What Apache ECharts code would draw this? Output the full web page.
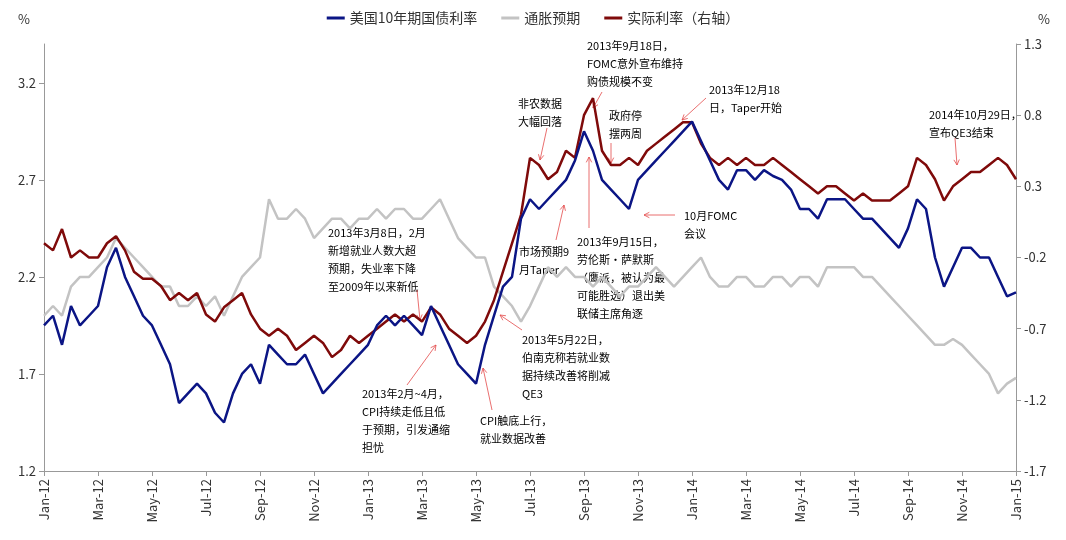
<!DOCTYPE html>
<html>
<head>
<meta charset="UTF-8">
<script src="https://cdn.jsdelivr.net/npm/echarts@6/dist/echarts.min.js"></script>
<style>
  html, body { margin: 0; background: #fff; }
  #chart { width: 1066px; height: 540px; }
</style>
</head>
<body>
<div id="chart"></div>
<script>
  // 每月三个观测点（约每10天），2012年1月 ~ 2015年1月
  const monthLabels = ['Jan', 'Feb', 'Mar', 'Apr', 'May', 'Jun', 'Jul', 'Aug', 'Sep', 'Oct', 'Nov', 'Dec'];

  const yield10y = [
    1.95, 2.0, 1.85, 2.05, 1.95, 2.0, 2.05, 2.25, 2.35, 2.2, 2.1, 2.0,
    1.95, 1.85, 1.75, 1.55, 1.6, 1.65, 1.6, 1.5, 1.45, 1.6, 1.7, 1.75,
    1.65, 1.85, 1.8, 1.75, 1.75, 1.8, 1.7, 1.6, 1.65, 1.7, 1.75, 1.8,
    1.85, 1.95, 2.0, 1.95, 2.0, 1.95, 1.9, 2.05, 1.95, 1.85, 1.75, 1.7,
    1.65, 1.85, 2.0, 2.15, 2.2, 2.5, 2.6, 2.55, 2.6, 2.65, 2.7, 2.8,
    2.95, 2.85, 2.7, 2.65, 2.6, 2.55, 2.7, 2.75, 2.8, 2.85, 2.9, 2.95,
    3.0, 2.9, 2.8, 2.7, 2.65, 2.75, 2.75, 2.7, 2.75, 2.72, 2.7, 2.65,
    2.55, 2.55, 2.5, 2.6, 2.6, 2.6, 2.55, 2.5, 2.5, 2.45, 2.4, 2.35,
    2.45, 2.6, 2.55, 2.3, 2.15, 2.25, 2.35, 2.35, 2.3, 2.3, 2.2, 2.1,
    2.12
  ];

  const inflationExp = [
    2.0, 2.05, 2.0, 2.15, 2.2, 2.2, 2.25, 2.3, 2.4, 2.35, 2.3, 2.25,
    2.2, 2.15, 2.15, 2.05, 2.05, 2.1, 2.05, 2.1, 2.0, 2.1, 2.2, 2.25,
    2.3, 2.6, 2.5, 2.5, 2.55, 2.5, 2.4, 2.45, 2.5, 2.5, 2.45, 2.5,
    2.5, 2.55, 2.5, 2.55, 2.55, 2.5, 2.5, 2.55, 2.6, 2.5, 2.4, 2.35,
    2.3, 2.3, 2.15, 2.1, 2.05, 1.97, 2.05, 2.15, 2.25, 2.2, 2.25, 2.2,
    2.2, 2.15, 2.2, 2.15, 2.1, 2.15, 2.15, 2.2, 2.25, 2.2, 2.15, 2.2,
    2.25, 2.3, 2.2, 2.15, 2.15, 2.2, 2.2, 2.15, 2.15, 2.2, 2.2, 2.15,
    2.2, 2.2, 2.15, 2.25, 2.25, 2.25, 2.25, 2.2, 2.2, 2.15, 2.1, 2.05,
    2.0, 1.95, 1.9, 1.85, 1.85, 1.88, 1.85, 1.8, 1.75, 1.7, 1.6, 1.65,
    1.68
  ];

  const realRate = [
    -0.1, -0.15, 0.0, -0.2, -0.15, -0.2, -0.2, -0.1, -0.05, -0.15, -0.3, -0.35,
    -0.35, -0.4, -0.5, -0.45, -0.5, -0.45, -0.6, -0.65, -0.55, -0.5, -0.45, -0.6,
    -0.7, -0.75, -0.7, -0.75, -0.85, -0.8, -0.75, -0.8, -0.9, -0.85, -0.75, -0.8,
    -0.75, -0.7, -0.65, -0.6, -0.65, -0.6, -0.65, -0.55, -0.6, -0.7, -0.75, -0.8,
    -0.75, -0.65, -0.5, -0.3, -0.1, 0.1, 0.5, 0.45, 0.35, 0.4, 0.55, 0.5,
    0.8, 0.92, 0.55, 0.45, 0.45, 0.5, 0.45, 0.55, 0.6, 0.65, 0.7, 0.75,
    0.75, 0.6, 0.5, 0.45, 0.5, 0.45, 0.5, 0.45, 0.45, 0.5, 0.45, 0.4,
    0.35, 0.3, 0.25, 0.3, 0.3, 0.25, 0.2, 0.25, 0.2, 0.2, 0.2, 0.25,
    0.3, 0.5, 0.45, 0.35, 0.2, 0.3, 0.35, 0.4, 0.4, 0.45, 0.5, 0.45,
    0.35
  ];

  // 注释文字 [x, y, 文本, 箭头起点x, 起点y, 终点x, 终点y]
  const notes = [
    [587, 37, '2013年9月18日，\nFOMC意外宣布维持\n购债规模不变', 602, 92, 593, 108],
    [518, 95, '非农数据\n大幅回落', 547, 128, 540, 160],
    [609, 107, '政府停\n摆两周', 611, 143, 611, 163],
    [709, 81, '2013年12月18\n日，Taper开始', 706, 98, 682, 120],
    [929, 106, '2014年10月29日，\n宣布QE3结束', 955, 138, 957, 165],
    [684, 207, '10月FOMC\n会议', 675, 215, 644, 215],
    [577, 233, '2013年9月15日，\n劳伦斯·萨默斯\n（鹰派，被认为最\n可能胜选）退出美\n联储主席角逐', 589, 228, 589, 157],
    [519, 243, '市场预期9\n月Taper', 556, 240, 564, 205],
    [328, 224, '2013年3月8日，2月\n新增就业人数大超\n预期，失业率下降\n至2009年以来新低', 417, 290, 420, 320],
    [522, 331, '2013年5月22日，\n伯南克称若就业数\n据持续改善将削减\nQE3', 522, 330, 500, 315],
    [362, 385, '2013年2月~4月，\nCPI持续走低且低\n于预期，引发通缩\n担忧', 407, 385, 436, 345],
    [480, 412, 'CPI触底上行，\n就业数据改善', 492, 410, 483, 368]
  ];

  const toPairs = arr => arr.map((v, i) => [i / 3, v]);

  const graphic = [];
  notes.forEach(n => {
    graphic.push({
      type: 'text', left: n[0], top: n[1],
      style: { text: n[2], fill: '#000', font: '11px "Noto Sans CJK SC"', lineHeight: 18 }
    });
    const ang = Math.atan2(n[6] - n[4], n[5] - n[3]);
    const a1 = ang + Math.PI * 0.85, a2 = ang - Math.PI * 0.85;
    graphic.push({
      type: 'polyline',
      shape: { points: [[n[3], n[4]], [n[5], n[6]]] },
      style: { stroke: '#e34a4a', lineWidth: 0.8 }
    });
    graphic.push({
      type: 'polyline',
      shape: { points: [[n[5] + 6 * Math.cos(a1), n[6] + 6 * Math.sin(a1)], [n[5], n[6]], [n[5] + 6 * Math.cos(a2), n[6] + 6 * Math.sin(a2)]] },
      style: { stroke: '#e34a4a', lineWidth: 0.8, fill: null }
    });
  });

  const chart = echarts.init(document.getElementById('chart'));
  const axisText = { color: '#333', fontSize: 13, fontFamily: 'Liberation Sans Narrow, Noto Sans CJK SC' };
  chart.setOption({
    animation: false,
    textStyle: { fontFamily: 'Noto Sans CJK SC' },
    legend: {
      top: 6, left: 'center', itemWidth: 18, itemHeight: 3, itemGap: 24,
      icon: 'rect',
      textStyle: { fontSize: 14, color: '#333' },
      data: ['美国10年期国债利率', '通胀预期', '实际利率（右轴）']
    },
    grid: { left: 44, right: 50, top: 44, bottom: 69 },
    graphic: graphic,
    xAxis: {
      type: 'value', min: 0, max: 36, interval: 2,
      axisLine: { onZero: false, lineStyle: { color: '#999' } },
      axisTick: { show: true, lineStyle: { color: '#999' } },
      splitLine: { show: false },
      axisLabel: Object.assign({}, axisText, {
        rotate: 90,
        formatter: v => monthLabels[v % 12] + '-' + (12 + Math.floor(v / 12))
      })
    },
    yAxis: [
      {
        type: 'value', min: 1.2, max: 3.4, interval: 0.5,
        name: '%', nameGap: 18, nameTextStyle: { color: '#333', fontSize: 13, align: 'right', padding: [0, 14, 0, 0] },
        axisLine: { show: true, lineStyle: { color: '#999' } },
        axisTick: { show: true, lineStyle: { color: '#999' } },
        splitLine: { show: false },
        axisLabel: Object.assign({}, axisText, { showMaxLabel: false, formatter: v => v.toFixed(1) })
      },
      {
        type: 'value', min: -1.7, max: 1.3, interval: 0.5,
        name: '%', nameGap: 18, nameTextStyle: { color: '#333', fontSize: 13, align: 'left', padding: [0, 0, 0, 22] },
        axisLine: { show: true, lineStyle: { color: '#999' } },
        axisTick: { show: true, lineStyle: { color: '#999' } },
        splitLine: { show: false },
        axisLabel: Object.assign({}, axisText, { formatter: v => v.toFixed(1) })
      }
    ],
    series: [
      {
        name: '美国10年期国债利率', type: 'line', data: toPairs(yield10y), yAxisIndex: 0,
        showSymbol: false, lineStyle: { color: '#0b1585', width: 2.5 }, itemStyle: { color: '#0b1585' }, z: 3
      },
      {
        name: '通胀预期', type: 'line', data: toPairs(inflationExp), yAxisIndex: 0,
        showSymbol: false, lineStyle: { color: '#c3c3c3', width: 2.5 }, itemStyle: { color: '#c3c3c3' }, z: 1
      },
      {
        name: '实际利率（右轴）', type: 'line', data: toPairs(realRate), yAxisIndex: 1,
        showSymbol: false, lineStyle: { color: '#7f0a0a', width: 2.5 }, itemStyle: { color: '#7f0a0a' }, z: 2
      }
    ]
  });
</script>
</body>
</html>
